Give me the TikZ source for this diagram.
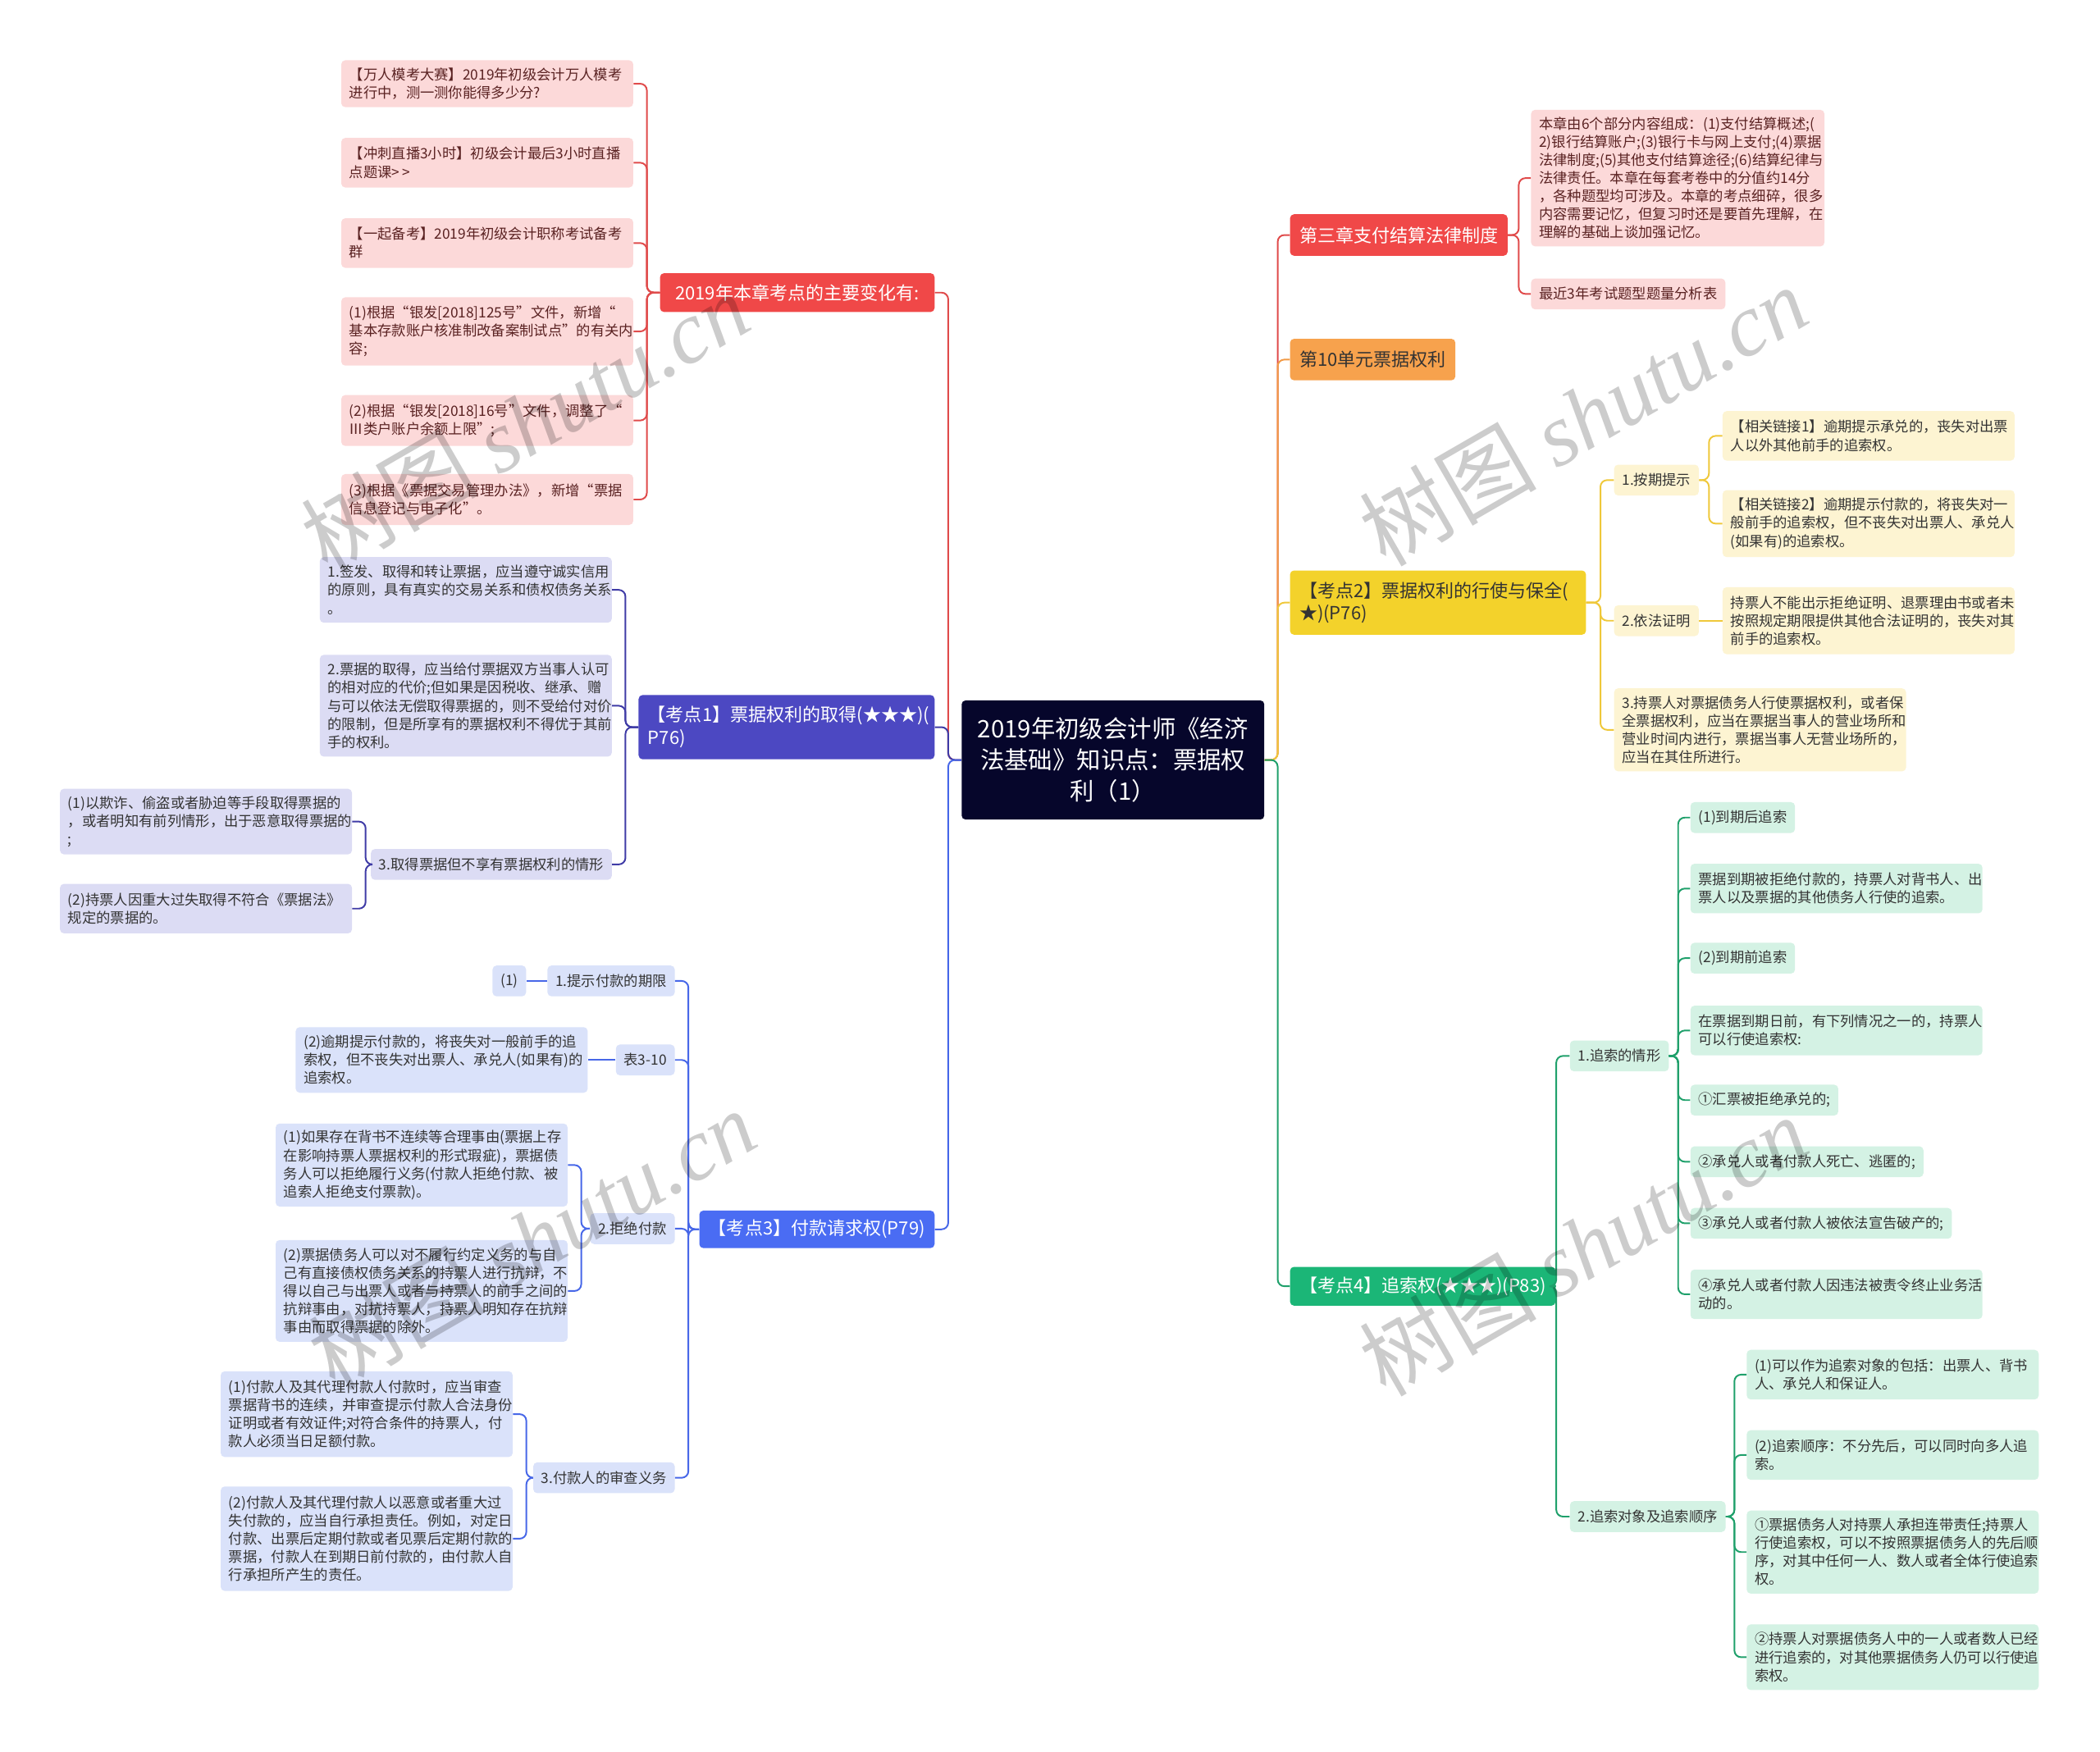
\documentclass[tikz,border=0pt]{standalone}
\usepackage{fontspec}
\setmainfont{Noto Sans CJK SC}
\newfontfamily\wmlat{Liberation Serif}
\definecolor{rootc}{HTML}{06062B}
\definecolor{txt}{HTML}{333333}
\definecolor{txtR}{HTML}{5A2222}
\definecolor{brR}{HTML}{F04848}
\definecolor{lnR}{HTML}{E04B4B}
\definecolor{lfR}{HTML}{FCD9D9}
\definecolor{brP}{HTML}{4C48C2}
\definecolor{lnP}{HTML}{3F3BA6}
\definecolor{lfP}{HTML}{DCDCF4}
\definecolor{brB}{HTML}{4A6CF3}
\definecolor{lnB}{HTML}{4767E8}
\definecolor{lfB}{HTML}{DAE2FA}
\definecolor{brO}{HTML}{F7A24D}
\definecolor{lnO}{HTML}{F29A45}
\definecolor{brY}{HTML}{F3D22B}
\definecolor{lnY}{HTML}{EFC83A}
\definecolor{lfY}{HTML}{FDF4D2}
\definecolor{brG}{HTML}{1BB677}
\definecolor{lnG}{HTML}{1FA06B}
\definecolor{lfG}{HTML}{D4F2E4}
\tikzset{
  nb/.style={rounded corners=3pt, inner xsep=6pt, inner ysep=0pt, text=txt, font=\fontsize{10.6}{13.5}\selectfont},
  ml/.style={nb, text width=206pt, align=left},
  fR/.style={fill=lfR, text=txtR}, fP/.style={fill=lfP}, fB/.style={fill=lfB}, fY/.style={fill=lfY}, fG/.style={fill=lfG},
  br/.style={rounded corners=3pt, inner xsep=7pt, inner ysep=0pt, font=\fontsize{13.5}{17}\selectfont, text=white},
  cn/.style={line width=1.2pt, rounded corners=5pt},
  cR/.style={cn, draw=lnR}, cP/.style={cn, draw=lnP}, cB/.style={cn, draw=lnB},
  cO/.style={cn, draw=lnO}, cY/.style={cn, draw=lnY}, cG/.style={cn, draw=lnG},
  wm/.style={text=black, text opacity=0.2, font=\fontsize{66}{66}\selectfont, rotate=30}
}
\begin{document}
\begin{tikzpicture}[x=1pt,y=-1pt]
\useasboundingbox (0,0) rectangle (1568,1308);
\fill[white] (0,0) rectangle (1568,1308);

% bars
\coordinate (bL) at (708,0);
\coordinate (bRt) at (954,0);
\coordinate (bRl) at (483,0);
\coordinate (bPu) at (467,0);
\coordinate (bP3) at (273,0);
\coordinate (bBl) at (514,0);
\coordinate (bB3) at (434,0);
\coordinate (bB4) at (393,0);
\coordinate (bRr) at (1134,0);
\coordinate (bYe) at (1195,0);
\coordinate (bY1) at (1276,0);
\coordinate (bGr) at (1162,0);
\coordinate (bG1) at (1253,0);
\coordinate (bG2) at (1295,0);

% root
\node[fill=rootc, rounded corners=3pt, text=white, minimum width=226pt, minimum height=89pt, text width=214pt, align=center, inner sep=0pt, font=\fontsize{18}{23.5}\selectfont] (root) at (831,567.5) {2019年初级会计师《经济\\法基础》知识点：票据权\\利（1）};

% left red branch
\node[br, fill=brR, anchor=east, minimum width=205pt, minimum height=29pt] (red) at (698,218.5) {2019年本章考点的主要变化有:};
\node[ml, fR, anchor=east, minimum height=35pt] (L1) at (473,62.5) {【万人模考大赛】2019年初级会计万人模考\\进行中，测一测你能得多少分?};
\node[ml, fR, anchor=east, minimum height=37pt] (L2) at (473,121.5) {【冲刺直播3小时】初级会计最后3小时直播\\点题课>{}\,>};
\node[ml, fR, anchor=east, minimum height=37pt] (L3) at (473,181.5) {【一起备考】2019年初级会计职称考试备考\\群};
\node[ml, fR, anchor=east, minimum height=51pt] (L4) at (473,247.5) {(1)根据“银发[2018]125号”文件，新增“\\基本存款账户核准制改备案制试点”的有关内\\容;};
\node[ml, fR, anchor=east, minimum height=38pt] (L5) at (473,314) {(2)根据“银发[2018]16号”文件，调整了“\\Ⅲ类户账户余额上限”;};
\node[ml, fR, anchor=east, minimum height=38pt] (L6) at (473,373) {(3)根据《票据交易管理办法》，新增“票据\\信息登记与电子化”。};

% purple branch
\node[br, fill=brP, anchor=east, minimum height=48pt, text width=207pt, align=left] (pur) at (698,543) {【考点1】票据权利的取得(★★★)(\\P76)};
\node[ml, fP, anchor=east, minimum height=49pt] (P1) at (457,440.5) {1.签发、取得和转让票据，应当遵守诚实信用\\的原则，具有真实的交易关系和债权债务关系\\。};
\node[ml, fP, anchor=east, minimum height=76pt] (P2) at (457,527) {2.票据的取得，应当给付票据双方当事人认可\\的相对应的代价;但如果是因税收、继承、赠\\与可以依法无偿取得票据的，则不受给付对价\\的限制，但是所享有的票据权利不得优于其前\\手的权利。};
\node[nb, fP, anchor=east, minimum height=23pt] (P3) at (457,645.5) {3.取得票据但不享有票据权利的情形};
\node[ml, fP, anchor=east, minimum height=49pt] (P3a) at (263,613.5) {(1)以欺诈、偷盗或者胁迫等手段取得票据的\\，或者明知有前列情形，出于恶意取得票据的\\;};
\node[ml, fP, anchor=east, minimum height=37pt] (P3b) at (263,678.5) {(2)持票人因重大过失取得不符合《票据法》\\规定的票据的。};

% blue branch
\node[br, fill=brB, anchor=east, minimum width=173pt, minimum height=28pt] (blu) at (698,918) {【考点3】付款请求权(P79)};
\node[nb, fB, anchor=east, minimum height=23pt] (B1) at (504,732.5) {1.提示付款的期限};
\node[nb, fB, anchor=east, minimum height=23pt] (B1a) at (393,732.5) {(1)};
\node[nb, fB, anchor=east, minimum height=23pt] (B2) at (504,791.5) {表3-10};
\node[ml, fB, anchor=east, minimum height=49pt] (B2a) at (439,791.5) {(2)逾期提示付款的，将丧失对一般前手的追\\索权，但不丧失对出票人、承兑人(如果有)的\\追索权。};
\node[nb, fB, anchor=east, minimum height=23pt] (B3) at (504,917.5) {2.拒绝付款};
\node[ml, fB, anchor=east, minimum height=62pt] (B3a) at (424,870) {(1)如果存在背书不连续等合理事由(票据上存\\在影响持票人票据权利的形式瑕疵)，票据债\\务人可以拒绝履行义务(付款人拒绝付款、被\\追索人拒绝支付票款)。};
\node[ml, fB, anchor=east, minimum height=76pt] (B3b) at (424,964) {(2)票据债务人可以对不履行约定义务的与自\\己有直接债权债务关系的持票人进行抗辩，不\\得以自己与出票人或者与持票人的前手之间的\\抗辩事由，对抗持票人，持票人明知存在抗辩\\事由而取得票据的除外。};
\node[nb, fB, anchor=east, minimum height=23pt] (B4) at (504,1103.5) {3.付款人的审查义务};
\node[ml, fB, anchor=east, minimum height=64pt] (B4a) at (383,1056) {(1)付款人及其代理付款人付款时，应当审查\\票据背书的连续，并审查提示付款人合法身份\\证明或者有效证件;对符合条件的持票人，付\\款人必须当日足额付款。};
\node[ml, fB, anchor=east, minimum height=78pt] (B4b) at (383,1149) {(2)付款人及其代理付款人以恶意或者重大过\\失付款的，应当自行承担责任。例如，对定日\\付款、出票后定期付款或者见票后定期付款的\\票据，付款人在到期日前付款的，由付款人自\\行承担所产生的责任。};

% right red branch
\node[br, fill=brR, anchor=west, minimum width=161pt, minimum height=31pt] (rR) at (963,175.5) {第三章支付结算法律制度};
\node[ml, fR, anchor=west, minimum height=102pt, text width=207pt] (R1) at (1143,133) {本章由6个部分内容组成：(1)支付结算概述;(\\2)银行结算账户;(3)银行卡与网上支付;(4)票据\\法律制度;(5)其他支付结算途径;(6)结算纪律与\\法律责任。本章在每套考卷中的分值约14分\\，各种题型均可涉及。本章的考点细碎，很多\\内容需要记忆，但复习时还是要首先理解，在\\理解的基础上谈加强记忆。};
\node[nb, fR, anchor=west, minimum height=23pt] (R2) at (1143,219.5) {最近3年考试题型题量分析表};

% orange
\node[br, fill=brO, text=txt, anchor=west, minimum width=123pt, minimum height=31pt] (org) at (963,268.5) {第10单元票据权利};

% yellow
\node[br, fill=brY, text=txt, anchor=west, minimum height=48pt, text width=207pt, align=left] (yel) at (963,450) {【考点2】票据权利的行使与保全(\\★)(P76)};
\node[nb, fY, anchor=west, minimum width=61pt, minimum height=23pt] (Y1) at (1205,358.5) {1.按期提示};
\node[ml, fY, anchor=west, minimum height=37pt] (Y1a) at (1286,325.5) {【相关链接1】逾期提示承兑的，丧失对出票\\人以外其他前手的追索权。};
\node[ml, fY, anchor=west, minimum height=50pt] (Y1b) at (1286,391) {【相关链接2】逾期提示付款的，将丧失对一\\般前手的追索权，但不丧失对出票人、承兑人\\(如果有)的追索权。};
\node[nb, fY, anchor=west, minimum width=61pt, minimum height=23pt] (Y2) at (1205,463.5) {2.依法证明};
\node[ml, fY, anchor=west, minimum height=50pt] (Y2a) at (1286,463.5) {持票人不能出示拒绝证明、退票理由书或者未\\按照规定期限提供其他合法证明的，丧失对其\\前手的追索权。};
\node[ml, fY, anchor=west, minimum height=62pt] (Y3) at (1205,545) {3.持票人对票据债务人行使票据权利，或者保\\全票据权利，应当在票据当事人的营业场所和\\营业时间内进行，票据当事人无营业场所的，\\应当在其住所进行。};

% green
\node[br, fill=brG, anchor=west, minimum width=189pt, minimum height=29pt] (grn) at (963,960.5) {【考点4】追索权(★★★)(P83)};
\node[nb, fG, anchor=west, minimum width=72pt, minimum height=23pt] (G1) at (1172,788.5) {1.追索的情形};
\node[nb, fG, anchor=west, minimum height=23pt] (g11) at (1262,610.5) {(1)到期后追索};
\node[ml, fG, anchor=west, minimum height=37pt] (g12) at (1262,663.5) {票据到期被拒绝付款的，持票人对背书人、出\\票人以及票据的其他债务人行使的追索。};
\node[nb, fG, anchor=west, minimum height=23pt] (g13) at (1262,715.5) {(2)到期前追索};
\node[ml, fG, anchor=west, minimum height=37pt] (g14) at (1262,769.5) {在票据到期日前，有下列情况之一的，持票人\\可以行使追索权:};
\node[nb, fG, anchor=west, minimum height=23pt] (g15) at (1262,821.5) {①汇票被拒绝承兑的;};
\node[nb, fG, anchor=west, minimum height=23pt] (g16) at (1262,867.5) {②承兑人或者付款人死亡、逃匿的;};
\node[nb, fG, anchor=west, minimum height=23pt] (g17) at (1262,913.5) {③承兑人或者付款人被依法宣告破产的;};
\node[ml, fG, anchor=west, minimum height=37pt] (g18) at (1262,966.5) {④承兑人或者付款人因违法被责令终止业务活\\动的。};
\node[nb, fG, anchor=west, minimum width=116pt, minimum height=23pt] (G2) at (1172,1132.5) {2.追索对象及追索顺序};
\node[ml, fG, anchor=west, minimum height=37pt] (g21) at (1304,1026.5) {(1)可以作为追索对象的包括：出票人、背书\\人、承兑人和保证人。};
\node[ml, fG, anchor=west, minimum height=37pt] (g22) at (1304,1086.5) {(2)追索顺序：不分先后，可以同时向多人追\\索。};
\node[ml, fG, anchor=west, minimum height=62pt] (g23) at (1304,1159) {①票据债务人对持票人承担连带责任;持票人\\行使追索权，可以不按照票据债务人的先后顺\\序，对其中任何一人、数人或者全体行使追索\\权。};
\node[ml, fG, anchor=west, minimum height=49pt] (g24) at (1304,1237.5) {②持票人对票据债务人中的一人或者数人已经\\进行追索的，对其他票据债务人仍可以行使追\\索权。};

% connectors: root left
\draw[cR] (root.west) -- (root.west -| bL) |- (red.east);
\draw[cP] (root.west) -- (root.west -| bL) |- (pur.east);
\draw[cB] (root.west) -- (root.west -| bL) |- (blu.east);
% root right
\draw[cR] (root.east) -- (root.east -| bRt) |- (rR.west);
\draw[cO] (root.east) -- (root.east -| bRt) |- (org.west);
\draw[cY] (root.east) -- (root.east -| bRt) |- (yel.west);
\draw[cG] (root.east) -- (root.east -| bRt) |- (grn.west);
% red left leaves
\foreach \n in {L1,L2,L3,L4,L5,L6} \draw[cR] (red.west) -- (red.west -| bRl) |- (\n.east);
% purple
\foreach \n in {P1,P2,P3} \draw[cP] (pur.west) -- (pur.west -| bPu) |- (\n.east);
\foreach \n in {P3a,P3b} \draw[cP] (P3.west) -- (P3.west -| bP3) |- (\n.east);
% blue
\foreach \n in {B1,B2,B3,B4} \draw[cB] (blu.west) -- (blu.west -| bBl) |- (\n.east);
\draw[cB] (B1.west) -- (B1a.east);
\draw[cB] (B2.west) -- (B2a.east);
\foreach \n in {B3a,B3b} \draw[cB] (B3.west) -- (B3.west -| bB3) |- (\n.east);
\foreach \n in {B4a,B4b} \draw[cB] (B4.west) -- (B4.west -| bB4) |- (\n.east);
% right red
\foreach \n in {R1,R2} \draw[cR] (rR.east) -- (rR.east -| bRr) |- (\n.west);
% yellow
\foreach \n in {Y1,Y2,Y3} \draw[cY] (yel.east) -- (yel.east -| bYe) |- (\n.west);
\foreach \n in {Y1a,Y1b} \draw[cY] (Y1.east) -- (Y1.east -| bY1) |- (\n.west);
\draw[cY] (Y2.east) -- (Y2a.west);
% green
\foreach \n in {G1,G2} \draw[cG] (grn.east) -- (grn.east -| bGr) |- (\n.west);
\foreach \n in {g11,g12,g13,g14,g15,g16,g17,g18} \draw[cG] (G1.east) -- (G1.east -| bG1) |- (\n.west);
\foreach \n in {g21,g22,g23,g24} \draw[cG] (G2.east) -- (G2.east -| bG2) |- (\n.west);

% watermarks
\node[wm] (w1) at (392,315) {树图 {\wmlat\itshape shutu.cn}};
\node[wm] (w2) at (1182,310) {树图 {\wmlat\itshape shutu.cn}};
\node[wm] (w3) at (397,925) {树图 {\wmlat\itshape shutu.cn}};
\node[wm] (w4) at (1182,930) {树图 {\wmlat\itshape shutu.cn}};
\end{tikzpicture}
\end{document}
